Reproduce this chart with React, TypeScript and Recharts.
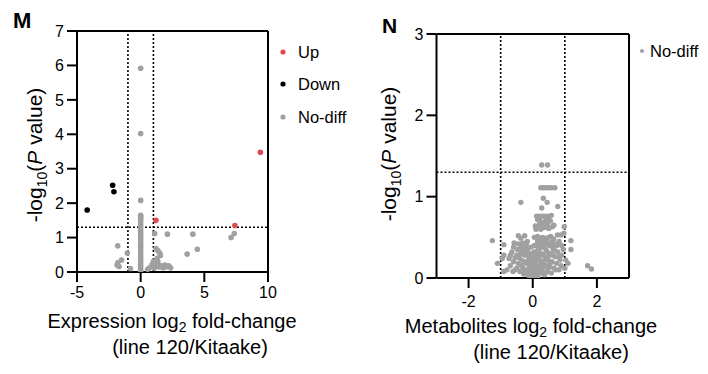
import { ReferenceLine, Scatter, ScatterChart, XAxis, YAxis } from 'recharts'

const FONT = '"Liberation Sans", Arial, Helvetica, sans-serif'
const RED = '#e04b50'
const BLACK = '#000000'
const GREY = '#a0a0a0'

// panel M: expression volcano
const M_X_TICKS = [-5, 0, 5, 10]
const M_Y_TICKS = [0, 1, 2, 3, 4, 5, 6, 7]
const M_UP: [number, number][] = [[1.2, 1.5], [7.4, 1.35], [9.4, 3.48]]
const M_DOWN: [number, number][] = [[-4.2, 1.8], [-2.2, 2.52], [-2.1, 2.33]]
const M_ZERO_COLUMN = [
  5.92, 4.02, 2.08, 1.65, 1.6, 1.55, 1.5, 1.42, 1.35, 1.28, 1.2, 1.12, 1.05, 0.98, 0.9, 0.82, 0.75,
  0.68, 0.6, 0.52, 0.45, 0.38, 0.3, 0.22, 0.15, 0.08, 0.02,
]
const M_NODIFF: [number, number][] = [
  [-1.8, 0.76], [-1.05, 0.55], [-1.5, 0.35], [-1.8, 0.27], [-1.85, 0.2], [-1.7, 0.16], [-0.8, 0.1],
  [1.1, 1.12], [2.1, 1.1], [4.1, 1.1], [7.1, 1.0], [7.35, 1.12], [3.65, 0.52], [4.45, 0.66],
  [1.2, 0.68], [1.35, 0.62], [1.5, 0.55], [1.55, 0.48], [1.3, 0.4], [1.35, 0.3], [1.3, 0.2],
  [1.6, 0.18], [1.9, 0.2], [2.0, 0.15], [2.2, 0.18], [2.35, 0.12], [1.0, 0.3], [0.9, 0.22],
  [0.7, 0.12], [0.55, 0.08], [1.1, 0.12], [1.45, 0.15], [1.75, 0.12],
]

// panel N: metabolites volcano
const N_X_TICKS = [-2, 0, 2]
const N_Y_TICKS = [0, 1, 2, 3]
const N_NODIFF: [number, number][] = [
  [0.28, 1.39], [0.46, 1.39],
  [0.25, 1.11], [0.33, 1.11], [0.41, 1.11], [0.5, 1.11], [0.58, 1.11], [0.69, 1.11],
  [-0.37, 0.93], [0.33, 0.98], [0.45, 0.93], [0.78, 0.88], [0.28, 0.86],
  [0.12, 0.76], [0.2, 0.76], [0.28, 0.76], [0.36, 0.76], [0.45, 0.76], [0.58, 0.77], [0.15, 0.72], [0.22, 0.7],
  [0.08, 0.64], [0.1, 0.6], [0.5, 0.61], [0.66, 0.65], [0.98, 0.63], [0.61, 0.63],
  [0.88, 0.53], [0.97, 0.55], [0.77, 0.53], [0.56, 0.51], [0.4, 0.49], [0.25, 0.47], [0.15, 0.51],
  [-1.26, 0.46], [1.19, 0.46], [-0.9, 0.41], [1.19, 0.35], [1.71, 0.15], [1.83, 0.11],
  [-1.1, 0.18], [-0.95, 0.24], [-0.9, 0.08], [-0.9, 0.28], [-0.74, 0.24],
  [-0.58, 0.43], [-0.48, 0.35], [-0.37, 0.49], [-0.32, 0.43], [-0.17, 0.45], [-0.22, 0.35],
  [-0.45, 0.52], [-0.25, 0.52], [0.05, 0.5], [0.9, 0.4], [1.03, 0.22], [1.1, 0.18], [1.0, 0.12],
  [-0.7, 0.15], [-0.6, 0.2], [-0.55, 0.1], [-0.5, 0.28], [-0.45, 0.18], [-0.4, 0.08], [-0.38, 0.3],
  [-0.35, 0.22], [-0.3, 0.12], [-0.28, 0.05], [-0.25, 0.28], [-0.2, 0.18], [-0.18, 0.1], [-0.15, 0.04],
  [-0.12, 0.25], [-0.1, 0.14], [-0.08, 0.06], [-0.05, 0.02], [-0.02, 0.2], [0, 0], [0.02, 0.1],
  [0.04, 0.32], [0.05, 0.04], [0.08, 0.18], [0.1, 0.4], [0.12, 0.08], [0.14, 0.28], [0.16, 0.02],
  [0.18, 0.14], [0.2, 0.36], [0.22, 0.22], [0.24, 0.06], [0.26, 0.42], [0.28, 0.3], [0.3, 0.12],
  [0.32, 0.2], [0.34, 0.38], [0.36, 0.04], [0.38, 0.26], [0.4, 0.16], [0.42, 0.34], [0.45, 0.08],
  [0.48, 0.22], [0.5, 0.4], [0.52, 0.14], [0.55, 0.3], [0.58, 0.06], [0.6, 0.2], [0.63, 0.36],
  [0.66, 0.12], [0.7, 0.26], [0.74, 0.18], [0.78, 0.32], [0.82, 0.1], [0.85, 0.22], [0.9, 0.28],
  [-0.65, 0.32], [-0.8, 0.1], [-0.2, 0.4], [0.0, 0.3], [0.15, 0.45], [0.35, 0.46], [0.45, 0.45],
  [0.6, 0.44], [0.7, 0.42], [-0.05, 0.38], [0.1, 0.22], [0.25, 0.16], [-0.35, 0.38],
  [-0.6, 0.38], [-0.55, 0.25], [-0.5, 0.12], [-0.45, 0.42], [-0.42, 0.25], [-0.4, 0.35], [-0.35, 0.15],
  [-0.32, 0.08], [-0.3, 0.32], [-0.28, 0.42], [-0.25, 0.2], [-0.22, 0.1], [-0.2, 0.3], [-0.15, 0.2],
  [-0.15, 0.36], [-0.12, 0.1], [-0.1, 0.3], [-0.05, 0.15], [-0.05, 0.25], [0.0, 0.12], [0.02, 0.22],
  [0.05, 0.4], [0.06, 0.28], [0.08, 0.1], [0.1, 0.32], [0.12, 0.16], [0.14, 0.5], [0.16, 0.38],
  [0.18, 0.25], [0.2, 0.08], [0.22, 0.45], [0.24, 0.3], [0.26, 0.2], [0.28, 0.1], [0.3, 0.38],
  [0.3, 0.5], [0.32, 0.28], [0.35, 0.15], [0.38, 0.42], [0.4, 0.06], [0.42, 0.24], [0.45, 0.32],
  [0.48, 0.12], [0.5, 0.5], [0.52, 0.28], [0.55, 0.18], [0.58, 0.4], [0.62, 0.28], [0.65, 0.48],
  [0.68, 0.34], [0.72, 0.1], [0.75, 0.4], [0.8, 0.26], [0.82, 0.45], [0.88, 0.15], [0.95, 0.35],
  [0.2, 0.65], [0.3, 0.68], [0.4, 0.7], [0.5, 0.72], [0.25, 0.6], [0.35, 0.62], [0.45, 0.66],
  [0.55, 0.7], [-0.62, 0.08], [-0.7, 0.28], [-0.02, 0.08], [0.03, 0.02], [-0.1, 0.0], [0.1, 0.01],
]

const toPoints = (rows: [number, number][]) => rows.map(([x, y]) => ({ x, y }))
const zeroColumn = M_ZERO_COLUMN.map((y) => ({ x: 0, y }))

const dot = (r: number, fill: string) => (p: any) => <circle cx={p.cx} cy={p.cy} r={r} fill={fill} />

const axisLine = { stroke: '#000', strokeWidth: 2 }
const tickStyle = { fill: '#000', fontSize: 16, fontFamily: FONT }

const dotted = { stroke: '#000', strokeWidth: 1.6, strokeDasharray: '2 2' }

function PanelM() {
  return (
    <ScatterChart width={354} height={374} margin={{ top: 31, right: 86, bottom: 72, left: 37 }}>
      <XAxis
        type="number"
        dataKey="x"
        domain={[-5, 10]}
        ticks={M_X_TICKS}
        height={30}
        axisLine={axisLine}
        tickLine={axisLine}
        tickSize={10}
        tickMargin={5}
        tick={tickStyle}
        allowDataOverflow
      />
      <YAxis
        type="number"
        dataKey="y"
        domain={[0, 7]}
        ticks={M_Y_TICKS}
        width={40}
        axisLine={axisLine}
        tickLine={axisLine}
        tickSize={10}
        tickMargin={3}
        tick={tickStyle}
        allowDataOverflow
      />
      <ReferenceLine y={7} stroke="#000" strokeWidth={2} />
      <ReferenceLine x={10} stroke="#000" strokeWidth={2} />
      <ReferenceLine x={-1} {...dotted} />
      <ReferenceLine x={1} {...dotted} />
      <ReferenceLine y={1.3} {...dotted} />
      <Scatter data={[...zeroColumn, ...toPoints(M_NODIFF)]} shape={dot(2.8, GREY)} isAnimationActive={false} />
      <Scatter data={toPoints(M_DOWN)} shape={dot(2.8, BLACK)} isAnimationActive={false} />
      <Scatter data={toPoints(M_UP)} shape={dot(2.8, RED)} isAnimationActive={false} />
    </ScatterChart>
  )
}

function PanelN() {
  return (
    <ScatterChart width={354} height={374} margin={{ top: 34, right: 79, bottom: 66, left: 42.5 }}>
      <XAxis
        type="number"
        dataKey="x"
        domain={[-3, 3]}
        ticks={N_X_TICKS}
        height={30}
        axisLine={axisLine}
        tickLine={axisLine}
        tickSize={10}
        tickMargin={8}
        tick={tickStyle}
        allowDataOverflow
      />
      <YAxis
        type="number"
        dataKey="y"
        domain={[0, 3]}
        ticks={N_Y_TICKS}
        width={40}
        axisLine={axisLine}
        tickLine={axisLine}
        tickSize={10}
        tickMargin={3}
        tick={tickStyle}
        allowDataOverflow
      />
      <ReferenceLine y={3} stroke="#000" strokeWidth={2} />
      <ReferenceLine x={3} stroke="#000" strokeWidth={2} />
      <ReferenceLine x={-1} {...dotted} />
      <ReferenceLine x={1} {...dotted} />
      <ReferenceLine y={1.3} {...dotted} />
      <Scatter data={toPoints(N_NODIFF)} shape={dot(2.7, GREY)} isAnimationActive={false} />
    </ScatterChart>
  )
}

function YTitle({ x, y }: { x: number; y: number }) {
  return (
    <text x={x} y={y} transform={`rotate(-90 ${x} ${y})`} textAnchor="middle" fontSize={21}>
      -log<tspan fontSize={14} dy={5}>10</tspan>
      <tspan dy={-5}>(</tspan>
      <tspan fontStyle="italic">P</tspan> value)
    </text>
  )
}

function XTitle({ x1, x2, y, lead }: { x1: number; x2: number; y: number; lead: string }) {
  return (
    <>
      <text x={x1} y={y - 1} textAnchor="middle" fontSize={20}>
        {lead} log<tspan fontSize={14} dy={4}>2</tspan>
        <tspan dy={-4}> fold-change</tspan>
      </text>
      <text x={x2} y={y + 25} textAnchor="middle" fontSize={20}>
        (line 120/Kitaake)
      </text>
    </>
  )
}

export default function App() {
  return (
    <div style={{ position: 'absolute', left: 0, top: 0, width: 708, height: 374, background: '#fff' }}>
      <div style={{ position: 'absolute', left: 0, top: 0 }}>
        <PanelM />
      </div>
      <div style={{ position: 'absolute', left: 354, top: 0 }}>
        <PanelN />
      </div>
      <svg
        width={708}
        height={374}
        style={{ position: 'absolute', left: 0, top: 0, pointerEvents: 'none' }}
        fontFamily={FONT}
        fill="#000"
      >
        <text x={13} y={28} fontSize={22} fontWeight="bold">M</text>
        <text x={382} y={33} fontSize={21} fontWeight="bold">N</text>

        <YTitle x={42} y={155} />
        <YTitle x={396} y={154} />

        <XTitle x1={172} x2={190} y={329} lead="Expression" />
        <XTitle x1={531} x2={551} y={334} lead="Metabolites" />

        <circle cx={283} cy={52} r={2.6} fill={RED} />
        <text x={298} y={58} fontSize={16.5}>Up</text>
        <circle cx={283} cy={84} r={2.6} fill={BLACK} />
        <text x={298} y={90} fontSize={16.5}>Down</text>
        <circle cx={283} cy={117} r={2.6} fill={GREY} />
        <text x={298} y={123} fontSize={16.5}>No-diff</text>

        <circle cx={642} cy={51} r={2} fill={GREY} />
        <text x={650} y={57} fontSize={16.5}>No-diff</text>
      </svg>
    </div>
  )
}
